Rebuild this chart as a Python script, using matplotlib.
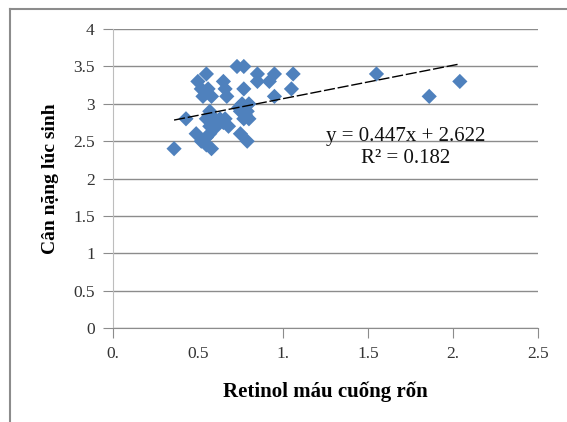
import matplotlib
matplotlib.use('Agg')
from matplotlib import pyplot as plt
from matplotlib.lines import Line2D
import numpy as np

# retinol (x) vs birth weight (y)
retinol = [0.36, 0.43, 0.49, 0.50, 0.55, 0.52, 0.56, 0.53, 0.58, 0.55,
           0.57, 0.55, 0.60, 0.57, 0.63, 0.66, 0.57, 0.61, 0.65, 0.68,
           0.52, 0.55, 0.55, 0.58, 0.57, 0.65, 0.66, 0.67, 0.73, 0.77,
           0.77, 0.85, 0.85, 0.92, 0.95, 0.95, 1.06, 1.05, 0.76, 0.80,
           0.75, 0.79, 0.77, 0.78, 0.75, 0.79, 1.55, 1.86, 2.04, 0.74,
           0.80]
can_nang = [2.40, 2.80, 2.60, 3.30, 3.40, 3.20, 3.20, 3.10, 3.10, 3.15,
            2.90, 2.80, 2.80, 2.85, 2.80, 2.80, 2.70, 2.70, 2.75, 2.70,
            2.50, 2.55, 2.45, 2.40, 2.60, 3.30, 3.20, 3.10, 3.50, 3.50,
            3.20, 3.40, 3.30, 3.30, 3.40, 3.10, 3.40, 3.20, 3.00, 3.00,
            2.90, 2.90, 2.80, 2.85, 2.60, 2.50, 3.40, 3.10, 3.30, 2.95,
            2.80]

slope = 0.447
intercept = 2.622
r2 = 0.182

xticks = [0, 0.5, 1.0, 1.5, 2.0, 2.5]
xlabels = ['0.', '0.5', '1.', '1.5', '2.', '2.5']
yticks = [0, 0.5, 1, 1.5, 2, 2.5, 3, 3.5, 4]
ylabels = ['0', '0.5', '1', '1.5', '2', '2.5', '3', '3.5', '4']

serif = ['Liberation Serif', 'DejaVu Serif']

fig = plt.figure(figsize=(5.67, 4.22), dpi=100)
ax = fig.add_axes([0.199, 0.2227, 0.75, 0.7083])

ax.scatter(retinol, can_nang, marker='D', s=60, color='#4F81BD',
           edgecolors='none', zorder=3)

xs = np.array([min(retinol), max(retinol)])
ax.plot(xs, slope * xs + intercept, color='black', lw=1,
        linestyle=(0, (8, 2)), zorder=4)

ax.set_xlim(0, 2.5)
ax.set_ylim(0, 4)
ax.set_xticks(xticks)
ax.set_xticklabels(xlabels, family=serif, fontsize=12.5, color='#333333')
ax.set_yticks(yticks)
ax.set_yticklabels(ylabels, family=serif, fontsize=12.5, color='#333333')
ax.xaxis.get_major_ticks()[1].tick1line.set_visible(False)

ax.yaxis.grid(True, color='#8c8c8c', lw=1)
ax.set_axisbelow(True)
for side in ['top', 'right']:
    ax.spines[side].set_visible(False)
ax.spines['left'].set_color('#bdbdbd')
ax.spines['bottom'].set_color('#8c8c8c')
ax.tick_params(axis='both', direction='out', length=7, color='#8c8c8c',
               pad=6)

ax.set_xlabel('Retinol máu cuống rốn', family=serif, fontsize=15,
              fontweight='bold', labelpad=14)
ax.set_ylabel('Cân nặng lúc sinh', family=serif, fontsize=14,
              fontweight='bold', labelpad=10)

ax.text(1.72, 2.56, 'y = %.3fx + %.3f' % (slope, intercept), family=serif,
        fontsize=15, ha='center', va='center', color='#111111')
ax.text(1.72, 2.27, 'R² = %.3f' % r2, family=serif, fontsize=15,
        ha='center', va='center', color='#111111')

# outer frame (top and left)
fig.add_artist(Line2D([10 / 567, 1], [1 - 9 / 422, 1 - 9 / 422],
                      color='#8c8c8c', lw=1.5))
fig.add_artist(Line2D([10 / 567, 10 / 567], [0, 1 - 9 / 422],
                      color='#8c8c8c', lw=1.5))

plt.savefig('out.png', dpi=100)
